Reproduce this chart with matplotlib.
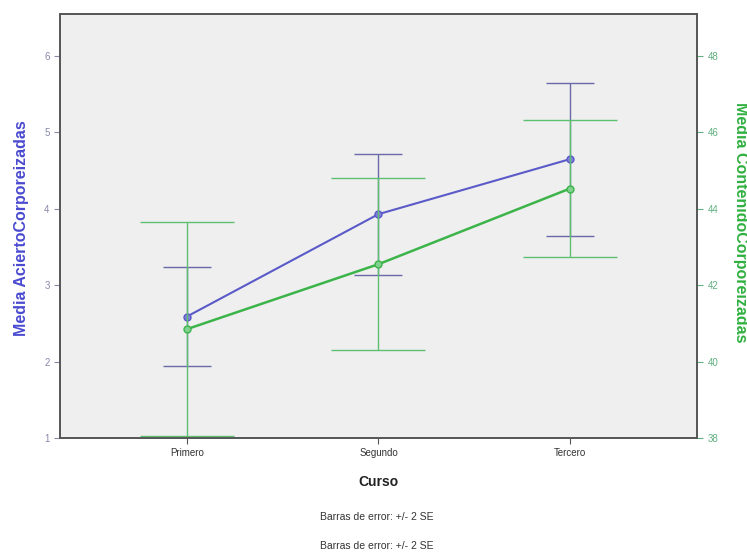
import matplotlib
matplotlib.use("Agg")
import matplotlib.pyplot as plt

plt.rcParams['font.family'] = ['Liberation Sans', 'DejaVu Sans']

categories = ["Primero", "Segundo", "Tercero"]
acierto_mean = [2.59, 3.93, 4.65]
acierto_err = [0.65, 0.79, 1.00]
contenido_mean = [40.85, 42.55, 44.53]
contenido_err = [2.80, 2.25, 1.79]
left_ticks = [1, 2, 3, 4, 5, 6]
right_ticks = [38, 40, 42, 44, 46, 48]

blue = "#5a5ac8"
blue_err = "#6a6aa8"
green = "#3cb44a"
green_err = "#5cc070"

fig = plt.figure(figsize=(7.47, 5.55), dpi=100)
fig.patch.set_facecolor("white")
ax = fig.add_axes([0.0803, 0.2108, 0.8527, 0.764])
ax.set_facecolor("#efefef")
ax2 = ax.twinx()

x = list(range(len(categories)))

ax.errorbar(x, acierto_mean, yerr=acierto_err, fmt='none', ecolor=blue_err,
            elinewidth=1.0, capsize=17, capthick=1.0, zorder=2)
ax.plot(x, acierto_mean, color=blue, lw=1.5, marker='o', ms=5,
        mfc="#8080d8", mec=blue, zorder=3)

ax2.errorbar(x, contenido_mean, yerr=contenido_err, fmt='none', ecolor=green_err,
             elinewidth=1.0, capsize=34, capthick=1.0, zorder=2)
ax2.plot(x, contenido_mean, color=green, lw=1.8, marker='o', ms=5,
         mfc="#80d090", mec=green, zorder=3)

ax.set_xlim(-0.663, 2.663)
ax.set_ylim(1, 6.55)
ax2.set_ylim(38, 49.1)
ax.set_xticks(x)
ax.set_xticklabels(categories)
ax.set_yticks(left_ticks)
ax2.set_yticks(right_ticks)

for a in (ax, ax2):
    for s in a.spines.values():
        s.set_color("#555555")
        s.set_linewidth(1.2)

ax.tick_params(axis='x', labelsize=7, colors="#555555", length=4, labelcolor="#333333")
ax.tick_params(axis='y', labelsize=7, colors="#8888aa", length=4, labelcolor="#8888aa")
ax2.tick_params(axis='y', labelsize=7, colors="#60b080", length=4, labelcolor="#60b080")

ax.set_xlabel("Curso", fontsize=10, fontweight='bold', color="#222222", labelpad=12)
ax.set_ylabel("Media AciertoCorporeizadas", fontsize=11.5, color="#4a4ad0",
              fontweight='bold')
ax.yaxis.label.set_va('center')
ax.yaxis.label.set_ha('center')
ax.yaxis.set_label_coords(-0.060, 0.495)

ax2.set_ylabel("Media ContenidoCorporeizadas", fontsize=11.5, color="#30b040",
               fontweight='bold', rotation=270)
ax2.yaxis.label.set_va('center')
ax2.yaxis.label.set_ha('center')
ax2.yaxis.set_label_coords(1.068, 0.509)

fig.text(0.505, 0.069, "Barras de error: +/- 2 SE", ha='center', va='center',
         fontsize=7.5, color="#333333")
fig.text(0.505, 0.017, "Barras de error: +/- 2 SE", ha='center', va='center',
         fontsize=7.5, color="#333333")

fig.savefig("out.png", dpi=100, facecolor=fig.get_facecolor())
